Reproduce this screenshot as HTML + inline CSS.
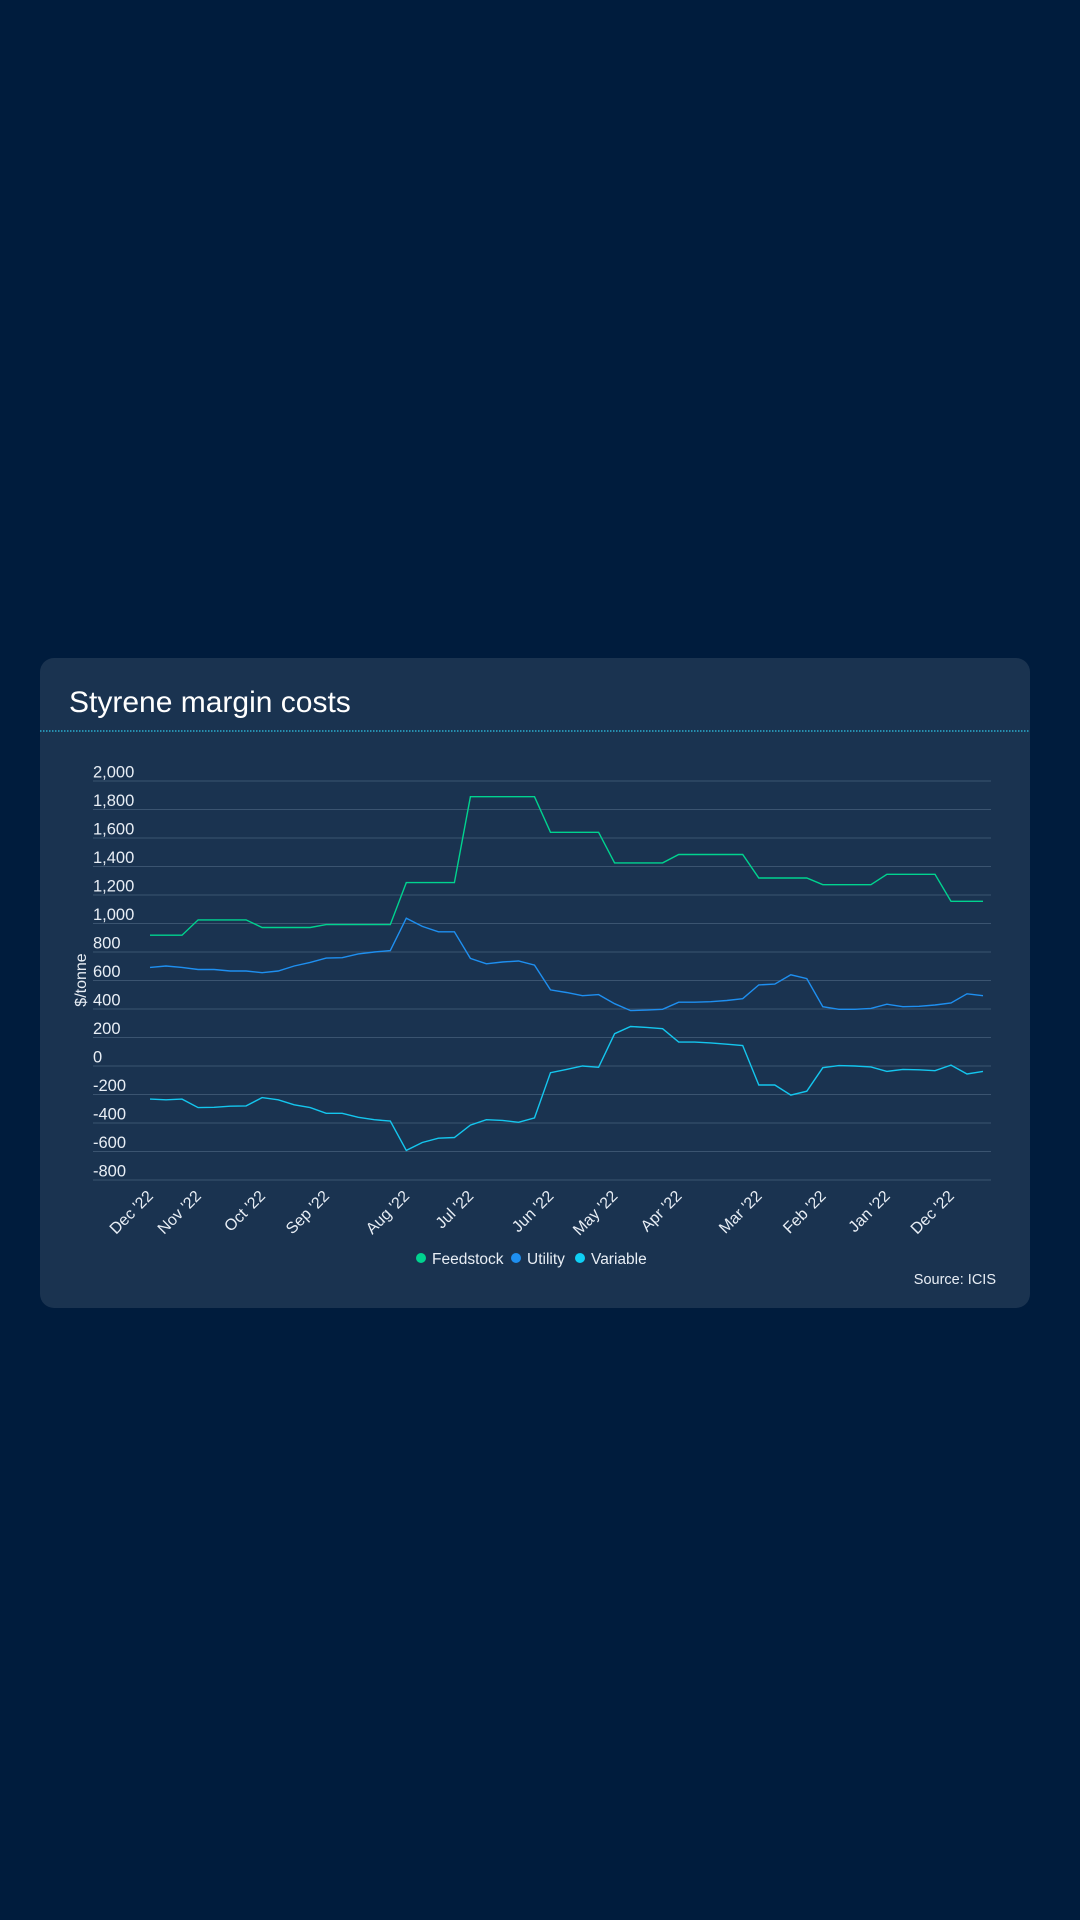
<!DOCTYPE html>
<html><head><meta charset="utf-8"><style>
html,body{margin:0;padding:0;background:#001c3d;width:1080px;height:1920px;overflow:hidden}
svg{display:block}
text{font-family:"Liberation Sans",sans-serif;fill:#e8eef5}
</style></head><body>
<svg id="s" width="1080" height="1920" xmlns="http://www.w3.org/2000/svg">
<rect x="0" y="0" width="1080" height="1920" fill="#001c3d"/>
<rect x="40" y="658" width="990" height="650" rx="14" fill="#1a3350"/>
<text x="69" y="712" font-size="30" style="fill:#ffffff">Styrene margin costs</text>
<line x1="40" y1="731" x2="1030" y2="731" stroke="#2ec4e6" stroke-width="1.2" stroke-dasharray="1.5 1.5"/>
<g id="grid"></g>
<text transform="translate(86,980) rotate(-90)" text-anchor="middle" font-size="16">$/tonne</text>
<g id="xl"></g>
<polyline id="pf" fill="none" stroke="#00d38f" stroke-width="1.4"/>
<polyline id="pu" fill="none" stroke="#1e8ff0" stroke-width="1.4"/>
<polyline id="pv" fill="none" stroke="#14c6ee" stroke-width="1.4"/>
<circle cx="421" cy="1258" r="5" fill="#00d38f"/>
<text x="432" y="1264" font-size="15.5">Feedstock</text>
<circle cx="516" cy="1258" r="5" fill="#1e8ff0"/>
<text x="527" y="1264" font-size="15.5">Utility</text>
<circle cx="580" cy="1258" r="5" fill="#0fd0f5"/>
<text x="591" y="1264" font-size="15.5">Variable</text>
<text x="996" y="1284" text-anchor="end" font-size="14.5">Source: ICIS</text>
</svg>
<script>
var ns="http://www.w3.org/2000/svg";
function Y(v){return 781+(2000-v)*0.1425;}
function X(i){return 150+i*16.02;}
var g=document.getElementById('grid');
for(var v=2000;v>=-800;v-=200){
 var l=document.createElementNS(ns,'line');l.setAttribute('x1',93);l.setAttribute('x2',991);
 l.setAttribute('y1',Y(v));l.setAttribute('y2',Y(v));l.setAttribute('stroke','#3b5470');l.setAttribute('stroke-width','1');g.appendChild(l);
 var t=document.createElementNS(ns,'text');t.setAttribute('x',93);t.setAttribute('y',Y(v)-3.5);t.setAttribute('font-size','16.5');
 t.textContent=(v<0?'-':'')+Math.abs(v).toLocaleString('en-US');g.appendChild(t);
}
var F=[918,918,918,1025,1025,1025,1025,972,972,972,972,992,992,992,992,992,1287,1287,1287,1287,1890,1890,1890,1890,1890,1640,1640,1640,1640,1425,1425,1425,1425,1484,1484,1484,1484,1484,1319,1319,1319,1319,1272,1272,1272,1272,1345,1345,1345,1345,1156,1156,1156];
var U=[692,702,692,677,677,667,667,655,667,702,727,757,760,787,800,810,1037,980,942,942,755,717,730,737,708,534,516,493,501,437,389,392,398,448,448,451,460,472,569,575,640,613,416,398,398,404,434,416,419,428,442,507,493];
var V=[-232,-237,-232,-292,-290,-282,-280,-222,-237,-272,-292,-332,-332,-360,-377,-387,-592,-537,-507,-502,-415,-377,-382,-395,-364,-47,-24,0,-9,227,277,271,262,168,168,162,153,144,-133,-133,-204,-177,-12,3,0,-6,-38,-24,-27,-33,6,-56,-38];
function pts(a){return a.map(function(v,i){return X(i).toFixed(1)+','+Y(v).toFixed(1)}).join(' ');}
document.getElementById('pf').setAttribute('points',pts(F));
document.getElementById('pu').setAttribute('points',pts(U));
document.getElementById('pv').setAttribute('points',pts(V));
var L=[[0,"Dec '22"],[3,"Nov '22"],[7,"Oct '22"],[11,"Sep '22"],[16,"Aug '22"],[20,"Jul '22"],[25,"Jun '22"],[29,"May '22"],[33,"Apr '22"],[38,"Mar '22"],[42,"Feb '22"],[46,"Jan '22"],[50,"Dec '22"]];
var xl=document.getElementById('xl');
L.forEach(function(p){var t=document.createElementNS(ns,'text');var x=X(p[0])+4,y=1197;
 t.setAttribute('transform','translate('+x+','+y+') rotate(-45)');t.setAttribute('text-anchor','end');t.setAttribute('font-size','16');t.textContent=p[1];xl.appendChild(t);});
</script>
</body></html>
